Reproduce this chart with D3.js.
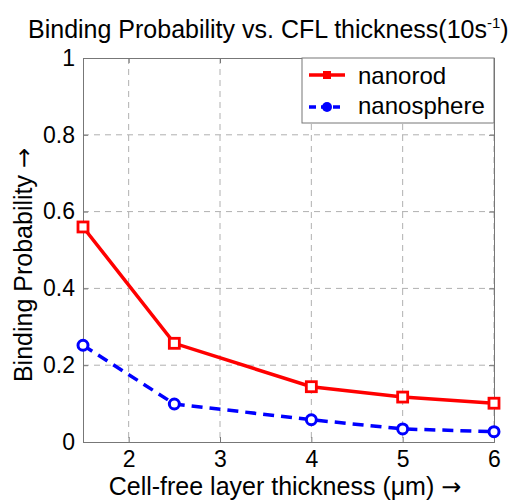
<!DOCTYPE html>
<html><head><meta charset="utf-8">
<script src="https://cdn.jsdelivr.net/npm/d3@7"></script>
<style>body{margin:0;background:#fff}svg{display:block}text{font-family:"Liberation Sans",Arial,sans-serif;fill:#000}</style>
</head><body><svg id="c" width="517" height="504"></svg>
<script>
const xValues = [1.5, 2.5, 4, 5, 6];
const nanorod = [0.56, 0.257, 0.144, 0.117, 0.101];
const nanosphere = [0.252, 0.099, 0.058, 0.034, 0.027];
const xTicks = [2, 3, 4, 5, 6];
const yTicks = [0, 0.2, 0.4, 0.6, 0.8, 1];
const yTickLabels = ["0", "0.2", "0.4", "0.6", "0.8", "1"];
const seriesNames = ["nanorod", "nanosphere"];

const svg = d3.select("#c");
const L = 83, R = 494, T = 58, B = 442;
const x = d3.scaleLinear().domain([1.5, 6]).range([L, R]);
const y = d3.scaleLinear().domain([0, 1]).range([B, T]);
const FF = '"Liberation Sans",Arial,sans-serif';

// grid
const g = svg.append("g");
g.selectAll(".vg").data(xTicks).join("line")
  .attr("x1", d => x(d)).attr("x2", d => x(d)).attr("y1", T).attr("y2", B)
  .attr("stroke", "#b0b0b0").attr("stroke-width", 1).attr("stroke-dasharray", "6,5");
g.selectAll(".hg").data(yTicks.slice(1, -1)).join("line")
  .attr("x1", L).attr("x2", R).attr("y1", d => y(d)).attr("y2", d => y(d))
  .attr("stroke", "#b0b0b0").attr("stroke-width", 1).attr("stroke-dasharray", "6,5");

// axes
const xa = svg.append("g").attr("transform", `translate(0,${B})`)
  .call(d3.axisBottom(x).tickValues(xTicks).tickSize(-5).tickPadding(9).tickFormat(d3.format("d")));
const xaT = svg.append("g").attr("transform", `translate(0,${T})`)
  .call(d3.axisTop(x).tickValues(xTicks).tickSize(-5).tickFormat(""));
const ya = svg.append("g").attr("transform", `translate(${L},0)`)
  .call(d3.axisLeft(y).tickValues(yTicks).tickSize(-5).tickPadding(8).tickFormat((d, i) => yTickLabels[i]));
const yaR = svg.append("g").attr("transform", `translate(${R},0)`)
  .call(d3.axisRight(y).tickValues(yTicks).tickSize(-5).tickFormat(""));
[xa, xaT, ya, yaR].forEach(a => {
  a.select(".domain").attr("stroke", "#777").attr("stroke-width", 1);
  a.selectAll(".tick line").attr("stroke", "#777");
  a.selectAll("text").attr("font-size", 23).attr("font-family", FF).attr("fill", "#000");
});

// lines
const line = d3.line().x((d, i) => x(xValues[i])).y(d => y(d));
svg.append("path").datum(nanosphere).attr("d", line).attr("fill", "none")
  .attr("stroke", "#0000ff").attr("stroke-width", 3.5).attr("stroke-dasharray", "11,7");
svg.append("path").datum(nanorod).attr("d", line).attr("fill", "none")
  .attr("stroke", "#ff0000").attr("stroke-width", 3.5);

svg.selectAll(".sq").data(nanorod).join("rect")
  .attr("x", (d, i) => x(xValues[i]) - 5).attr("y", d => y(d) - 5)
  .attr("width", 10).attr("height", 10)
  .attr("fill", "#fff").attr("stroke", "#ff0000").attr("stroke-width", 2.8);
svg.selectAll(".ci").data(nanosphere).join("circle")
  .attr("cx", (d, i) => x(xValues[i])).attr("cy", d => y(d)).attr("r", 5)
  .attr("fill", "#fff").attr("stroke", "#0000ff").attr("stroke-width", 3);

// legend
const lg = svg.append("g");
lg.append("rect").attr("x", 302).attr("y", T).attr("width", R - 302).attr("height", 65)
  .attr("fill", "#fff").attr("stroke", "#777").attr("stroke-width", 1);
lg.append("line").attr("x1", 309).attr("x2", 345).attr("y1", 75).attr("y2", 75)
  .attr("stroke", "#ff0000").attr("stroke-width", 3.5);
lg.append("rect").attr("x", 323).attr("y", 71).attr("width", 8).attr("height", 8).attr("fill", "#ff0000");
lg.append("line").attr("x1", 309).attr("x2", 345).attr("y1", 107).attr("y2", 107)
  .attr("stroke", "#0000ff").attr("stroke-width", 3.5).attr("stroke-dasharray", "7,5");
lg.append("circle").attr("cx", 327).attr("cy", 107).attr("r", 5).attr("fill", "#0000ff");
lg.append("text").attr("x", 358).attr("y", 84).attr("font-size", 24).text(seriesNames[0]);
lg.append("text").attr("x", 358).attr("y", 114).attr("font-size", 24).text(seriesNames[1]);

// title
const t = svg.append("text").attr("x", 28).attr("y", 38).attr("font-size", 25);
t.append("tspan").text("Binding Probability vs. CFL thickness(10s");
t.append("tspan").attr("font-size", 15).attr("dy", -10).text("-1");
t.append("tspan").attr("dy", 10).text(")");

// axis labels
const xl = svg.append("text").attr("x", 285).attr("y", 495).attr("text-anchor", "middle").attr("font-size", 25);
xl.append("tspan").text("Cell-free layer thickness (\u03bcm) ");
xl.append("tspan").attr("font-family", '"DejaVu Sans",sans-serif').attr("font-size", 24).text("\u2192");
const yl = svg.append("text").attr("transform", "translate(32,265) rotate(-90)").attr("text-anchor", "middle")
  .attr("font-size", 25);
yl.append("tspan").text("Binding Probability ");
yl.append("tspan").attr("font-family", '"DejaVu Sans",sans-serif').attr("font-size", 24).text("\u2192");
</script></body></html>
